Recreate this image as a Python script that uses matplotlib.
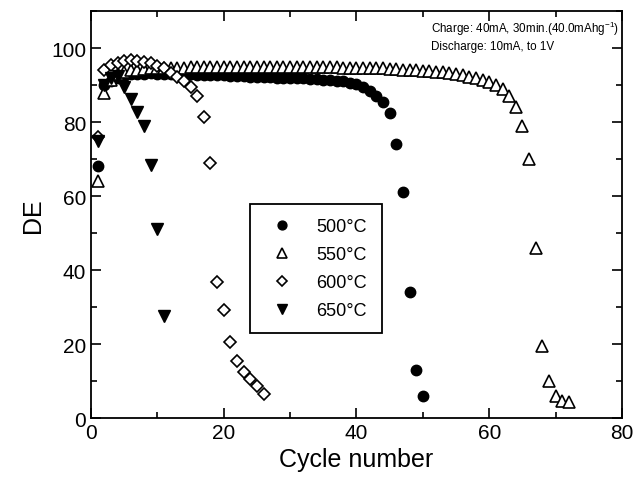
import matplotlib
matplotlib.use("Agg")
import matplotlib.pyplot as plt
from matplotlib import font_manager
from matplotlib.ticker import MultipleLocator

plt.rcParams['font.family'] = ['Liberation Sans', 'DejaVu Sans']
plt.rcParams['mathtext.fontset'] = 'custom'
plt.rcParams['mathtext.rm'] = 'Liberation Sans'

# DE vs cycle number for each calcination temperature
de_500 = [68, 90, 91, 92, 92.5, 93, 93, 93, 93.2, 93, 93, 93, 93, 93, 93,
          92.8, 92.8, 92.7, 92.7, 92.6, 92.5, 92.5, 92.4, 92.3, 92.3, 92.2,
          92.1, 92, 92, 91.9, 91.8, 91.8, 91.7, 91.6, 91.5, 91.4, 91.2, 91,
          90.7, 90.2, 89.5, 88.5, 87, 85.5, 82.5, 74, 61, 34, 13, 6]
de_550 = [64, 88, 91.5, 93, 93.5, 94, 94, 94.3, 94.5, 94.6, 94.6, 94.7,
          94.7, 94.7, 94.8, 94.8, 94.8, 94.8, 94.8, 94.8, 94.8, 94.8, 94.8,
          94.8, 94.8, 94.8, 94.8, 94.8, 94.8, 94.8, 94.8, 94.8, 94.8, 94.8,
          94.8, 94.8, 94.8, 94.7, 94.7, 94.7, 94.6, 94.6, 94.5, 94.5, 94.4,
          94.3, 94.2, 94.1, 94, 93.9, 93.8, 93.6, 93.5, 93.3, 93, 92.8, 92.3,
          92, 91.5, 90.8, 90, 89, 87, 84, 79, 70, 46, 19.5, 10, 6, 4.6, 4.4]
de_600 = [76, 94, 95.5, 96, 96.5, 96.7, 96.5, 96.3, 96, 95.3, 94.5, 93.3,
          92.3, 91, 89.5, 87, 81.5, 69, 36.8, 29.2, 20.5, 15.4, 12.4, 10.5,
          8.7, 6.5]
de_650 = [75, 90, 92, 92.5, 89.5, 86.3, 82.7, 79, 68.5, 51, 27.5]

fig = plt.figure(figsize=(6.36, 4.85), dpi=100)
ax = fig.add_axes([0.143, 0.136, 0.835, 0.839])

ax.plot(range(1, len(de_500) + 1), de_500, 'o', color='black', ms=7.5,
        label='500°C')
ax.plot(range(1, len(de_550) + 1), de_550, '^', mfc='white', mec='black',
        mew=1.2, ms=8, label='550°C')
ax.plot(range(1, len(de_600) + 1), de_600, 'D', mfc='white', mec='black',
        mew=1.2, ms=6, label='600°C')
ax.plot(range(1, len(de_650) + 1), de_650, 'v', color='black', ms=8.5,
        label='650°C')

ax.set_xlim(0, 80)
ax.set_ylim(0, 110)
ax.xaxis.set_major_locator(MultipleLocator(20))
ax.xaxis.set_minor_locator(MultipleLocator(10))
ax.yaxis.set_major_locator(MultipleLocator(20))
ax.yaxis.set_minor_locator(MultipleLocator(10))
ax.tick_params(which='both', direction='in', top=True, right=True,
               width=1.2, labelsize=15)
ax.tick_params(which='major', length=7)
ax.tick_params(which='minor', length=4)
for s in ax.spines.values():
    s.set_linewidth(1.3)

ax.set_xlabel('Cycle number', fontsize=18)
ax.set_ylabel('DE', fontsize=18)

# narrow font for the test conditions if there is one
names = {f.name for f in font_manager.fontManager.ttflist}
if 'Liberation Sans Narrow' in names:
    note_font, note_size = ['Liberation Sans Narrow', 'DejaVu Sans'], 10
else:
    note_font, note_size = ['Liberation Sans', 'DejaVu Sans'], 8.4

ax.text(0.640, 0.958, 'Charge: 40mA, 30min.(40.0mAhg$^{-1}$)',
        transform=ax.transAxes, fontsize=note_size, family=note_font,
        va='center')
ax.text(0.640, 0.914, 'Discharge: 10mA, to 1V',
        transform=ax.transAxes, fontsize=note_size, family=note_font,
        va='center')

leg = ax.legend(loc='upper left', bbox_to_anchor=(0.299, 0.526),
                borderaxespad=0, fontsize=13, frameon=True, fancybox=False,
                edgecolor='black', borderpad=0.8, labelspacing=0.6,
                handletextpad=0.9, markerscale=0.85)
leg.get_frame().set_linewidth(1.3)
leg.get_frame().set_alpha(1)

fig.savefig('out.png', dpi=100)
